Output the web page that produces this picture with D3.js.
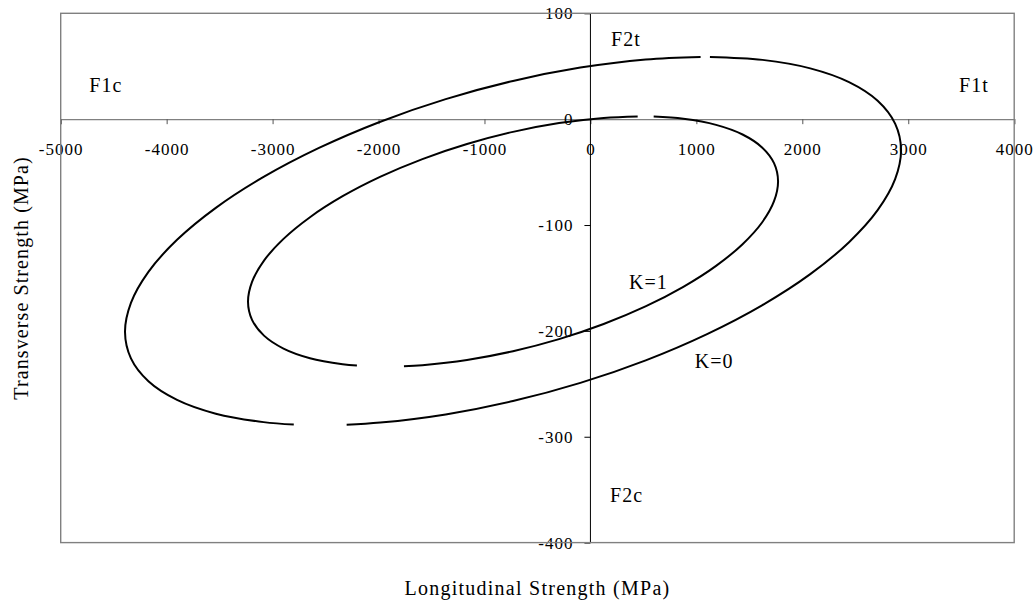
<!DOCTYPE html>
<html>
<head>
<meta charset="utf-8">
<script src="https://cdn.jsdelivr.net/npm/d3@7"></script>
<style>
  body { margin: 0; background: #fff; }
  text { font-family: "Liberation Serif", "Times New Roman", serif; fill: #000; }
</style>
</head>
<body>
<svg id="chart" width="1035" height="603"></svg>
<script>
"use strict"

// failure envelopes, [longitudinal, transverse] in MPa
// every envelope is a left and a right branch, so it shows a gap top and bottom
const k0Left = [[1040, 58.8], [522, 56.4], [-95, 48.7], [-731, 36.1], [-1366, 18.9], [-1983, -2.4],
    [-2562, -27.2], [-3085, -54.6], [-3536, -83.8], [-3902, -114.0], [-4172, -144.2], [-4337, -173.5],
    [-4393, -201.1], [-4337, -226.0], [-4172, -247.6], [-3902, -265.2], [-3536, -278.2], [-3085, -286.2],
    [-2800, -288.5]]
const k0Right = [[1128, 58.8], [1624, 56.0], [2075, 48.0], [2441, 35.0], [2711, 17.4], [2876, -4.2],
    [2932, -29.1], [2876, -56.7], [2711, -86.0], [2441, -116.2], [2075, -146.4], [1624, -175.6],
    [1101, -203.0], [522, -227.8], [-95, -249.1], [-731, -266.3], [-1366, -278.9], [-1983, -286.6],
    [-2301, -288.6]]
const k1Left = [[446, 2.6], [125, 1.2], [-296, -3.7], [-731, -12.0], [-1165, -23.5], [-1586, -37.7],
    [-1981, -54.3], [-2339, -72.8], [-2647, -92.6], [-2897, -113.1], [-3081, -133.6], [-3194, -153.7],
    [-3232, -172.5], [-3194, -189.6], [-3081, -204.5], [-2897, -216.7], [-2647, -225.8], [-2339, -231.5],
    [-2204, -232.8]]
const k1Right = [[597, 2.4], [877, 0.3], [1186, -5.4], [1436, -14.5], [1620, -26.7], [1733, -41.6],
    [1771, -58.7], [1733, -77.5], [1620, -97.6], [1436, -118.1], [1186, -138.6], [877, -158.4],
    [520, -176.9], [125, -193.5], [-296, -207.8], [-731, -219.2], [-1165, -227.5], [-1586, -232.4],
    [-1760, -233.4]]

const xTicks = [-5000, -4000, -3000, -2000, -1000, 0, 1000, 2000, 3000, 4000]
const yTicks = [100, 0, -100, -200, -300, -400]

// text placed in the plot, anchored at [longitudinal, transverse]
const notes = [["F1c", -4730, 26], ["F2t", 195, 69], ["F1t", 3480, 26],
    ["F2c", 185, -362], ["K=1", 365, -160], ["K=0", 985, -235]]

const svg = d3.select("#chart")
const plotL = 60.7, plotR = 1014.2, plotT = 13.3, plotB = 542.6

let x = d3.scaleLinear().domain([-5000, 4000]).range([plotL, plotR])
let y = d3.scaleLinear().domain([-400, 100]).range([plotB, plotT])

// plain hyphen for negatives, like the original
let fmt = d => String(d)

svg.append("rect")
    .attr("width", 1035).attr("height", 603)
    .attr("fill", "#fff")

// horizontal axis through sigma2 = 0
let gx = svg.append("g")
    .attr("transform", "translate(0," + y(0) + ")")
    .call(d3.axisBottom(x).tickValues(xTicks).tickSize(5).tickPadding(19).tickFormat(fmt))
gx.select(".domain").attr("stroke", "#808080").attr("stroke-width", 1.4)
gx.selectAll(".tick line").attr("stroke", "#555")
gx.selectAll("text")
    .attr("font-size", 17)
    .attr("letter-spacing", "1px")

// vertical axis through sigma1 = 0
let gy = svg.append("g")
    .attr("transform", "translate(" + x(0) + ",0)")
    .call(d3.axisLeft(y).tickValues(yTicks).tickSize(6).tickPadding(11).tickFormat(fmt))
gy.select(".domain")
    .attr("d", "M0," + plotT + "V" + plotB)
    .attr("stroke", "#000")
    .attr("stroke-width", 1)
gy.selectAll("text")
    .attr("font-size", 17)
    .attr("letter-spacing", "1px")

// the axis groups set a sans font, drop it so the css serif applies
svg.selectAll("g").attr("font-family", null).attr("font-size", null)

// plot frame
svg.append("rect")
    .attr("x", plotL).attr("y", plotT)
    .attr("width", plotR - plotL).attr("height", plotB - plotT)
    .attr("fill", "none")
    .attr("stroke", "#808080")
    .attr("stroke-width", 1.4)

let line = d3.line()
    .x(d => x(d[0]))
    .y(d => y(d[1]))
    .curve(d3.curveCatmullRom)

svg.append("g")
    .selectAll("path")
    .data([k0Left, k0Right, k1Left, k1Right])
    .enter().append("path")
    .attr("d", line)
    .attr("fill", "none")
    .attr("stroke", "#000")
    .attr("stroke-width", 2)
    .attr("stroke-linejoin", "round")

svg.append("g")
    .selectAll("text")
    .data(notes)
    .enter().append("text")
    .attr("x", d => x(d[1]))
    .attr("y", d => y(d[2]))
    .attr("font-size", 20)
    .attr("letter-spacing", "1px")
    .text(d => d[0])

// axis titles
svg.append("text")
    .attr("x", (plotL + plotR) / 2)
    .attr("y", 595)
    .attr("text-anchor", "middle")
    .attr("font-size", 20)
    .attr("letter-spacing", "1.25px")
    .text("Longitudinal Strength (MPa)")

svg.append("text")
    .attr("transform", "translate(27.5," + (plotT + plotB) / 2 + ") rotate(-90)")
    .attr("text-anchor", "middle")
    .attr("font-size", 20)
    .attr("letter-spacing", "1.1px")
    .text("Transverse Strength (MPa)")
</script>
</body>
</html>
